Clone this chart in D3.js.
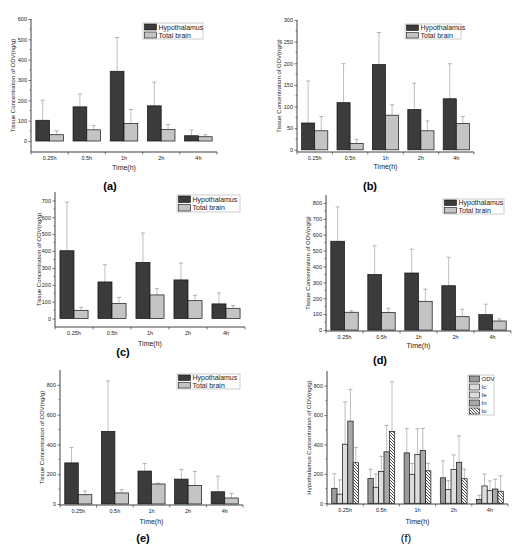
<!DOCTYPE html>
<html>
<head>
<meta charset="utf-8">
<script src="https://cdn.jsdelivr.net/npm/d3@7"></script>
<style>
  body { margin: 0; background: #fff; }
  text { font-family: "Liberation Sans", Arial, sans-serif; }
</style>
</head>
<body>
<div id="display"></div>
<script>
// categories
var times = ["0.25h", "0.5h", "1h", "2h", "4h"];

// (a) .. (e): hypothalamus / total brain mean and SD (ng/g)
var hypoA = [102, 168, 343, 173, 26];
var hypoAsd = [99, 63, 166, 116, 28];
var brainA = [31, 55, 86, 56, 21];
var brainAsd = [19, 21, 69, 25, 10];

var hypoB = [62, 109, 197, 93, 118];
var hypoBsd = [97, 90, 74, 61, 81];
var brainB = [44, 15, 80, 44, 61];
var brainBsd = [33, 9, 24, 23, 16];

var hypoC = [402, 217, 333, 229, 87];
var hypoCsd = [288, 102, 174, 100, 65];
var brainC = [49, 89, 140, 106, 61];
var brainCsd = [18, 37, 37, 32, 16];

var hypoD = [559, 350, 359, 279, 97];
var hypoDsd = [216, 180, 150, 179, 66];
var brainD = [112, 110, 181, 84, 57];
var brainDsd = [10, 27, 76, 47, 13];

var hypoE = [276, 488, 221, 167, 82];
var hypoEsd = [103, 339, 51, 65, 105];
var brainE = [62, 74, 134, 125, 40];
var brainEsd = [25, 22, 6, 93, 31];

var seriesNames = ["Hypothalamus", "Total brain"];
var compounds = ["ODV", "Ic", "Ie", "In", "Io"];

var svg = d3.select("#display")
    .append("svg")
    .attr("width", 514)
    .attr("height", 550);

// hatch patterns for panel (f)
var defs = svg.append("defs");

function pattern(id, size, bg, lines) {
    var p = defs.append("pattern")
        .attr("id", id)
        .attr("patternUnits", "userSpaceOnUse")
        .attr("width", size)
        .attr("height", size);
    p.append("rect").attr("width", size).attr("height", size).attr("fill", bg);
    lines.forEach(function (l) {
        p.append("path").attr("d", l.d)
            .attr("stroke", l.c).attr("stroke-width", l.w).attr("fill", "none");
    });
}
pattern("pODV", 3, "#a0a0a0", [{ d: "M0,3 L3,0", c: "#848484", w: 0.6 }]);
pattern("pIc", 2, "#f2f2f2", [{ d: "M0,1 L2,1", c: "#b5b5b5", w: 0.7 }]);
pattern("pIe", 2, "#f2f2f2", [{ d: "M1,0 L1,2", c: "#b5b5b5", w: 0.7 }]);
pattern("pIn", 2, "#c8c8c8", [{ d: "M0,1 L2,1", c: "#808080", w: 0.5 }, { d: "M1,0 L1,2", c: "#808080", w: 0.5 }]);
pattern("pIo", 3, "#ffffff", [{ d: "M0,0 L3,3 M-1,2 L1,4 M2,-1 L4,1", c: "#222", w: 0.8 }]);

var fills2 = ["#3b3b3b", "#c4c4c4"];
var fills5 = ["url(#pODV)", "url(#pIc)", "url(#pIe)", "url(#pIn)", "url(#pIo)"];

var panels = [
    { series: [hypoA, brainA], sd: [hypoAsd, brainAsd], x0: 31, x1: 217, y0: 19, y1: 152, dom: [-54, 600], major: 100,
      tag: "(a)", tagX: 110, tagY: 190, titleY: 167, yTitleX: 13, legend: { x: 143, y: 23, w: 60, h: 16 } },
    { series: [hypoB, brainB], sd: [hypoBsd, brainBsd], x0: 297, x1: 474, y0: 20, y1: 152, dom: [-5, 300], major: 50,
      tag: "(b)", tagX: 370, tagY: 190, titleY: 166, yTitleX: 279, legend: { x: 405, y: 24, w: 56, h: 15 } },
    { series: [hypoC, brainC], sd: [hypoCsd, brainCsd], x0: 55, x1: 245, y0: 192, y1: 327, dom: [-50, 750], major: 100,
      tag: "(c)", tagX: 123, tagY: 356, titleY: 343, yTitleX: 39, legend: { x: 177, y: 195, w: 63, h: 17 } },
    { series: [hypoD, brainD], sd: [hypoDsd, brainDsd], x0: 326, x1: 511, y0: 195, y1: 331, dom: [-6, 850], major: 100,
      tag: "(d)", tagX: 380, tagY: 364, titleY: 345, yTitleX: 308, legend: { x: 443, y: 199, w: 61, h: 15 } },
    { series: [hypoE, brainE], sd: [hypoEsd, brainEsd], x0: 60, x1: 243, y0: 370, y1: 505, dom: [-7, 900], major: 200,
      tag: "(e)", tagX: 143, tagY: 542, titleY: 521, yTitleX: 42, legend: { x: 177, y: 374, w: 63, h: 15 } },
    { series: [hypoA, hypoB, hypoC, hypoD, hypoE], sd: [hypoAsd, hypoBsd, hypoCsd, hypoDsd, hypoEsd],
      x0: 327, x1: 508, y0: 371, y1: 504, dom: [-5, 900], major: 200,
      tag: "(f)", tagX: 406, tagY: 542, titleY: 521, yTitleX: 309, legend: { x: 468, y: 375, w: 26, h: 40 },
      names: compounds, fills: fills5, yTitle: "Hypothalamus Concentration of ODV(ng/g)", plainTag: true }
];

panels.forEach(drawPanel);

function drawPanel(p) {
    var names = p.names || seriesNames;
    var fills = p.fills || fills2;
    var g = svg.append("g");

    var x = d3.scaleBand().domain(times).range([p.x0, p.x1]).paddingInner(0).paddingOuter(0);
    var xs = d3.scaleBand().domain(d3.range(p.series.length))
        .range([0, x.bandwidth() * 0.74]);
    var off = x.bandwidth() * 0.13;
    var y = d3.scaleLinear().domain(p.dom).range([p.y1, p.y0]);

    // error bars first, bars drawn over them
    p.series.forEach(function (s, k) {
        var eg = g.append("g");
        s.forEach(function (v, i) {
            var cx = x(times[i]) + off + xs(k) + xs.bandwidth() / 2;
            var top = y(v + p.sd[k][i]);
            eg.append("line").attr("x1", cx).attr("x2", cx)
                .attr("y1", y(v)).attr("y2", top)
                .attr("stroke", "#b0b0b0").attr("stroke-width", 0.8);
            eg.append("line").attr("x1", cx - 2).attr("x2", cx + 2)
                .attr("y1", top).attr("y2", top)
                .attr("stroke", "#a0a0a0").attr("stroke-width", 0.8);
        });
        g.append("g").selectAll("rect")
            .data(s)
            .enter()
            .append("rect")
            .attr("x", function (d, i) { return x(times[i]) + off + xs(k); })
            .attr("y", function (d) { return y(d); })
            .attr("width", xs.bandwidth())
            .attr("height", function (d) { return y(0) - y(d); })
            .attr("fill", fills[k])
            .attr("stroke", "#111")
            .attr("stroke-width", 0.7);
    });

    // y axis with minor ticks
    var yTicks = d3.range(0, p.dom[1] + 1, p.major);
    var yMinor = d3.range(p.major / 2, p.dom[1], p.major);
    var ya = g.append("g").attr("transform", "translate(" + p.x0 + ",0)")
        .call(d3.axisLeft(y).tickValues(yTicks).tickSize(2.5).tickPadding(1.5).tickFormat(d3.format("d")));
    ya.select(".domain").remove();
    ya.selectAll("line").attr("stroke", "#222").attr("stroke-width", 0.6);
    ya.selectAll("text").attr("font-size", "5.5px").attr("fill", "#222").attr("font-family", "Liberation Sans, Arial, sans-serif");
    g.append("g").selectAll("line").data(yMinor).enter().append("line")
        .attr("x1", p.x0 - 1.5).attr("x2", p.x0)
        .attr("y1", function (d) { return y(d); }).attr("y2", function (d) { return y(d); })
        .attr("stroke", "#222").attr("stroke-width", 0.5);
    g.append("line").attr("x1", p.x0).attr("x2", p.x0).attr("y1", p.y0).attr("y2", p.y1)
        .attr("stroke", "#111").attr("stroke-width", 0.8);

    // x axis, ticks on category boundaries
    g.append("line").attr("x1", p.x0).attr("x2", p.x1).attr("y1", p.y1).attr("y2", p.y1)
        .attr("stroke", "#111").attr("stroke-width", 0.8);
    var bounds = times.map(function (t) { return x(t); }).concat([p.x1]);
    g.append("g").selectAll("line").data(bounds).enter().append("line")
        .attr("x1", function (d) { return d; }).attr("x2", function (d) { return d; })
        .attr("y1", p.y1).attr("y2", p.y1 + 2.5)
        .attr("stroke", "#222").attr("stroke-width", 0.6);
    g.append("g").selectAll("text").data(times).enter().append("text")
        .attr("x", function (d) { return x(d) + x.bandwidth() / 2; })
        .attr("y", p.y1 + 8)
        .attr("text-anchor", "middle")
        .attr("font-size", "5.5px")
        .attr("fill", "#222")
        .text(function (d) { return d; });

    // titles
    g.append("text").attr("x", (p.x0 + p.x1) / 2).attr("y", p.titleY + 2.5)
        .attr("text-anchor", "middle").attr("font-size", "7px").attr("fill", "#222")
        .text("Time(h)");
    g.append("text")
        .attr("transform", "translate(" + p.yTitleX + "," + ((p.y0 + p.y1) / 2) + ") rotate(-90)")
        .attr("text-anchor", "middle").attr("dominant-baseline", "central")
        .attr("font-size", "6px").attr("fill", "#222")
        .text(p.yTitle || "Tissue Concentration of ODV(ng/g)");
    g.append("text").attr("x", p.tagX).attr("y", p.tagY)
        .attr("text-anchor", "middle")
        .attr("font-family", "Liberation Serif, Times New Roman, serif")
        .attr("font-weight", p.plainTag ? "normal" : "bold")
        .attr("font-size", "11px")
        .text(p.tag);

    // legend
    var L = p.legend;
    var lg = g.append("g");
    lg.append("rect").attr("x", L.x).attr("y", L.y).attr("width", L.w).attr("height", L.h)
        .attr("fill", "#fff").attr("stroke", "#aaa").attr("stroke-width", 0.6);
    var row = L.h / names.length;
    names.forEach(function (n, k) {
        lg.append("rect").attr("x", L.x + 1.5).attr("y", L.y + k * row + 1)
            .attr("width", names.length > 2 ? 10 : 12).attr("height", row - 2)
            .attr("fill", fills[k]).attr("stroke", "#111").attr("stroke-width", 0.6);
        lg.append("text").attr("x", L.x + (names.length > 2 ? 13.5 : 15.5)).attr("y", L.y + k * row + row / 2)
            .attr("dominant-baseline", "central")
            .attr("font-size", names.length > 2 ? "6px" : "7px").attr("fill", "#222")
            .text(n);
    });
}
</script>
</body>
</html>
